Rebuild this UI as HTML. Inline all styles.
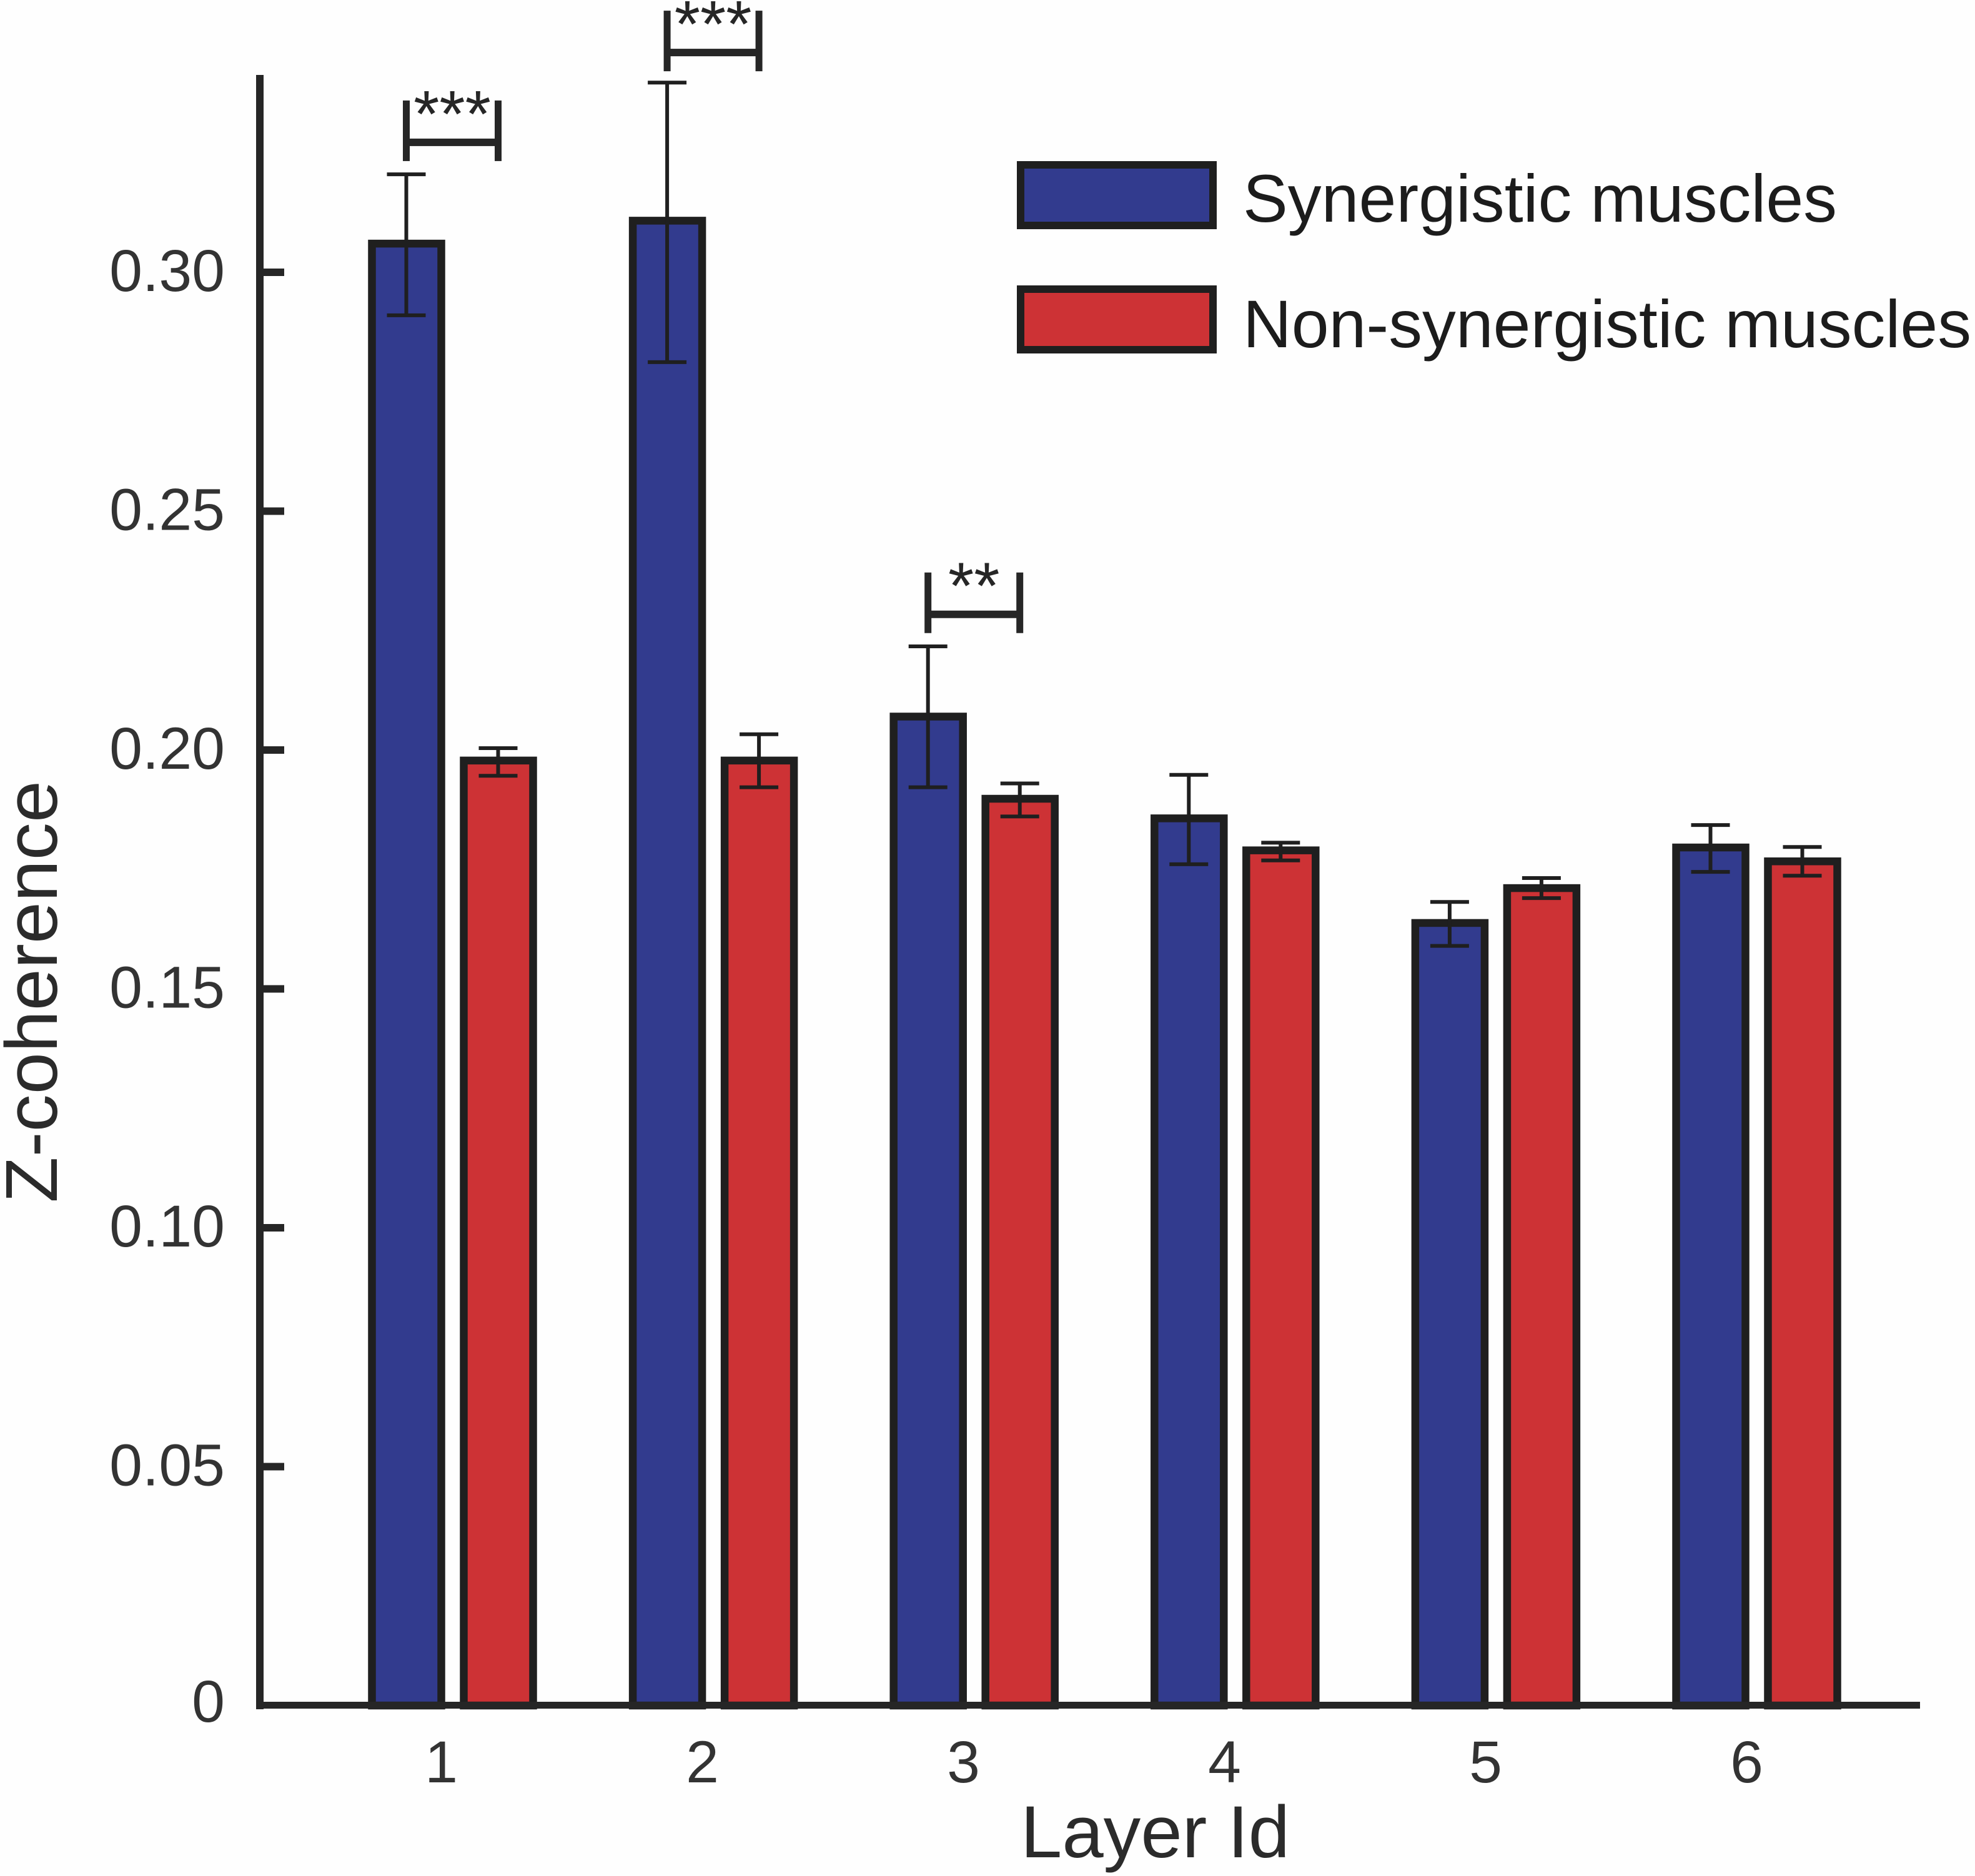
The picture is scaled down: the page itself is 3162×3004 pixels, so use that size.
<!DOCTYPE html>
<html lang="en">
<head>
<meta charset="utf-8">
<title>Z-coherence by layer</title>
<style>
html,body{margin:0;padding:0;background:#fefefe;}
svg{display:block;font-family:"Liberation Sans",Arial,sans-serif;}
</style>
</head>
<body>
<svg id="chart" xmlns="http://www.w3.org/2000/svg" width="3162" height="3004" viewBox="0 0 3162 3004">
  <rect x="0" y="0" width="3162" height="3004" fill="#fefefe"/>
  <g id="bars"></g>
  <g id="errors"></g>
  <g id="yaxis">
    <rect x="410" y="120" width="12" height="2617" fill="#262626"/>
  </g>
  <rect x="410" y="2725" width="2664" height="11" fill="#262626"/>
  <g id="xaxis"></g>
  <g id="brackets"></g>
  <text transform="translate(91,1926) rotate(-90)" font-size="118" fill="#2b2b2b" textLength="676" lengthAdjust="spacingAndGlyphs">Z-coherence</text>
  <text x="1634" y="2974" font-size="118" fill="#2b2b2b" textLength="431" lengthAdjust="spacingAndGlyphs">Layer Id</text>
  <g>
    <g>
      <rect x="1634" y="264" width="308" height="97" fill="#323b8e" stroke="#1f1f1f" stroke-width="12"/>
      <text x="1990" y="355" font-size="108" fill="#1c1c1c" textLength="951" lengthAdjust="spacingAndGlyphs">Synergistic muscles</text>
    </g>
    <g>
      <rect x="1634" y="463" width="308" height="97" fill="#cd3235" stroke="#1f1f1f" stroke-width="12"/>
      <text x="1990" y="556" font-size="108" fill="#1c1c1c" textLength="1166" lengthAdjust="spacingAndGlyphs">Non-synergistic muscles</text>
    </g>
  </g>
</svg>
<script>
const categories = ['1', '2', '3', '4', '5', '6'];
const yTickValues = [0, 0.05, 0.10, 0.15, 0.20, 0.25, 0.30];
const yTickLabels = ['0', '0.05', '0.10', '0.15', '0.20', '0.25', '0.30'];
const synergisticValues = [0.3060, 0.3108, 0.2070, 0.1857, 0.1638, 0.1796];
const synergisticErrHigh = [0.3205, 0.3397, 0.2217, 0.1948, 0.1682, 0.1843];
const synergisticErrLow = [0.2910, 0.2812, 0.1922, 0.1761, 0.1590, 0.1745];
const nonSynergisticValues = [0.1978, 0.1978, 0.1898, 0.1790, 0.1711, 0.1767];
const nonSynergisticErrHigh = [0.2004, 0.2033, 0.1930, 0.1806, 0.1732, 0.1797];
const nonSynergisticErrLow = [0.1946, 0.1922, 0.1861, 0.1769, 0.1690, 0.1737];
const bracketGroups = [0, 1, 2];
const bracketValues = [0.3272, 0.3460, 0.2284];
const bracketLabels = ['***', '***', '**'];

const NS = 'http://www.w3.org/2000/svg';
const INK = '#1f1f1f';
const yScale = v => 2731 - v * 7650;
const blueX = i => 651 + 417.6 * i;
const redX = i => 798 + 417.6 * i;
const labelX = i => 706.5 + 418 * i;
const BAR_HALF = 55.5;
const CAP_HALF = 31;

function make(tag, attrs, parent) {
  const el = document.createElementNS(NS, tag);
  for (const k in attrs) el.setAttribute(k, attrs[k]);
  parent.appendChild(el);
  return el;
}

const barsG = document.getElementById('bars');
const errorsG = document.getElementById('errors');
const yaxisG = document.getElementById('yaxis');
const xaxisG = document.getElementById('xaxis');
const bracketsG = document.getElementById('brackets');

function drawBar(cx, value, fill, name) {
  const top = yScale(value);
  const el = make('rect', {x: cx - BAR_HALF, y: top, width: BAR_HALF * 2, height: yScale(0) - top, fill: fill, stroke: INK, 'stroke-width': 12.5}, barsG);
  
  
}

function drawError(cx, hi, lo, name) {
  const g = make('g', {stroke: INK, 'stroke-width': 6, fill: 'none'}, errorsG);
  
  
  const stem = make('line', {x1: cx, x2: cx, y1: yScale(hi), y2: yScale(lo)}, g);
  
  
  const capHi = make('line', {x1: cx - CAP_HALF, x2: cx + CAP_HALF, y1: yScale(hi), y2: yScale(hi)}, g);
  
  
  const capLo = make('line', {x1: cx - CAP_HALF, x2: cx + CAP_HALF, y1: yScale(lo), y2: yScale(lo)}, g);
  
  
}

categories.forEach((cat, i) => {
  drawBar(blueX(i), synergisticValues[i], '#323b8e', 'bar-synergistic-layer-' + cat);
  drawBar(redX(i), nonSynergisticValues[i], '#cd3235', 'bar-non-synergistic-layer-' + cat);
  drawError(blueX(i) - 0.5, synergisticErrHigh[i], synergisticErrLow[i], 'error-synergistic-layer-' + cat);
  drawError(redX(i) - 0.5, nonSynergisticErrHigh[i], nonSynergisticErrLow[i], 'error-non-synergistic-layer-' + cat);

  const label = make('text', {x: labelX(i), y: 2854, 'font-size': 95, 'text-anchor': 'middle', fill: '#333333'}, xaxisG);
  
  
  label.textContent = cat;
});

yTickValues.forEach((v, i) => {
  if (v > 0) {
    const tick = make('rect', {x: 410, y: yScale(v) - 6, width: 45, height: 12, fill: '#262626'}, yaxisG);
    
    
  }
  const label = make('text', {x: 360, y: yScale(v) + (v > 0 ? 30 : 26), 'font-size': 95, 'text-anchor': 'end', fill: '#333333'}, yaxisG);
  
  
  label.textContent = yTickLabels[i];
});

bracketGroups.forEach((g, i) => {
  const x1 = blueX(g) - 0.5;
  const x2 = redX(g) - 0.5;
  const y = yScale(bracketValues[i]);
  const group = make('g', {}, bracketsG);
  
  
  const left = make('rect', {x: x1 - 5.5, y: y - 67, width: 11, height: 97, fill: '#262626'}, group);
  
  
  const right = make('rect', {x: x2 - 5.5, y: y - 67, width: 11, height: 97, fill: '#262626'}, group);
  
  
  const bar = make('rect', {x: x1, y: y - 6, width: x2 - x1, height: 12, fill: '#262626'}, group);
  
  
  const stars = make('text', {x: (x1 + x2) / 2, y: y - 9, 'font-size': 106, 'text-anchor': 'middle', fill: '#262626'}, group);
  
  
  stars.textContent = bracketLabels[i];
});
</script>
</body>
</html>
